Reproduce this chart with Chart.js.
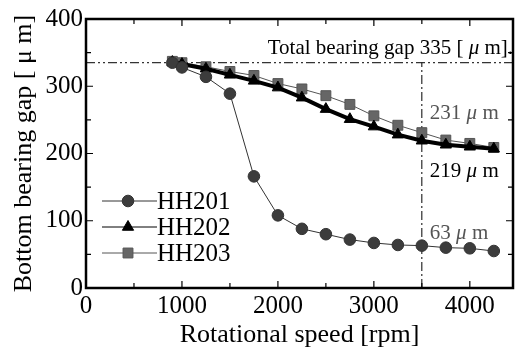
<!DOCTYPE html>
<html>
<head>
<meta charset="utf-8">
<script src="https://cdn.jsdelivr.net/npm/chart.js@4.4.1/dist/chart.umd.min.js"></script>
<style>
  html, body { margin: 0; padding: 0; background: #fff; }
  #wrap { width: 521px; height: 347px; }
</style>
</head>
<body>
<div id="wrap"><canvas id="myChart" width="521" height="347"></canvas></div>
<script>
  // rotational speed [rpm]
  var speed = [900, 1000, 1250, 1500, 1750, 2000, 2250, 2500, 2750, 3000, 3250, 3500, 3750, 4000, 4250]
  // bottom bearing gap [um]
  var HH201 = [335, 328, 314, 289, 166, 108, 88, 80, 72, 67, 64, 63, 60, 59, 55]
  var HH202 = [336, 333, 326, 317, 308, 298, 283, 266, 251, 240, 228, 219, 213, 210, 207]
  var HH203 = [337, 335, 329, 322, 316, 304, 296, 286, 273, 256, 242, 231, 220, 215, 209]
  var totalGap = 335
  var markSpeed = 3500
  var xTicks = [0, 1000, 2000, 3000, 4000]
  var yTicks = [0, 100, 200, 300, 400]

  var serif = "'Liberation Serif', 'Times New Roman', serif"

  function pts(ys) {
    return speed.map(function (s, i) { return { x: s, y: ys[i] } })
  }

  // inward ticks, box border, in-plot legend and annotations
  var decor = {
    id: 'decor',
    afterDatasetsDraw: function (chart) {
      var c = chart.ctx, a = chart.chartArea
      var xs = chart.scales.x, ys = chart.scales.y
      c.save()
      c.strokeStyle = '#000'
      c.lineWidth = 1.2
      for (var v = 500; v < 4450; v += 500) {
        var px = xs.getPixelForValue(v)
        var len = v % 1000 === 0 ? 7 : 5
        c.beginPath()
        c.moveTo(px, a.bottom); c.lineTo(px, a.bottom - len)
        c.moveTo(px, a.top); c.lineTo(px, a.top + len)
        c.stroke()
      }
      for (var w = 50; w < 400; w += 50) {
        var py = ys.getPixelForValue(w)
        var l2 = w % 100 === 0 ? 7 : 5
        c.beginPath()
        c.moveTo(a.left, py); c.lineTo(a.left + l2, py)
        c.moveTo(a.right, py); c.lineTo(a.right - l2, py)
        c.stroke()
      }
      c.lineWidth = 2.5
      c.strokeRect(a.left, a.top, a.right - a.left, a.bottom - a.top)

      // legend
      var ly = [201, 227, 253]
      chart.data.datasets.slice(0, 3).forEach(function (ds, i) {
        c.strokeStyle = ds.borderColor
        c.lineWidth = 1
        c.beginPath(); c.moveTo(102, ly[i]); c.lineTo(157, ly[i]); c.stroke()
        c.fillStyle = ds.backgroundColor
        c.strokeStyle = ds.borderColor
        Chart.helpers.drawPoint(c, {
          pointStyle: ds.pointStyle, radius: ds.pointRadius, borderWidth: 1
        }, 128, ly[i])
        c.fillStyle = '#000'
        c.font = '25px ' + serif
        c.textAlign = 'left'; c.textBaseline = 'middle'
        c.fillText(ds.label, 157, ly[i] + 1)
      })

      // annotations
      function mu(txt1, txt2, x, y, color, align) {
        var f = '21px ' + serif, fi = 'italic 21px ' + serif
        c.fillStyle = color
        c.textBaseline = 'alphabetic'
        c.font = f
        var w1 = c.measureText(txt1).width
        c.font = fi
        var wm = c.measureText('\u03bc').width
        c.font = f
        var w2 = c.measureText(txt2).width
        var sx = align === 'right' ? x - (w1 + wm + w2) : x
        c.textAlign = 'left'
        c.fillText(txt1, sx, y)
        c.font = fi
        c.fillText('\u03bc', sx + w1, y)
        c.font = f
        c.fillText(txt2, sx + w1 + wm, y)
      }
      var tx = xs.getPixelForValue(markSpeed) + 8
      mu('Total bearing gap ' + totalGap + ' [ ', ' m].', a.right, ys.getPixelForValue(totalGap) - 9, '#000', 'right')
      mu(HH203[11] + ' ', ' m', tx, ys.getPixelForValue(HH203[11]) - 14, '#555', 'left')
      mu(HH202[11] + ' ', ' m', tx, ys.getPixelForValue(HH202[11]) + 36, '#000', 'left')
      mu(HH201[11] + ' ', ' m', tx, ys.getPixelForValue(HH201[11]) - 7, '#555', 'left')
      c.restore()
    }
  }

  var ctx = document.getElementById('myChart')
  var myChart = new Chart(ctx, {
    type: 'line',
    data: {
      datasets: [
        {
          label: 'HH201', data: pts(HH201),
          borderColor: '#333', backgroundColor: '#3c3c3c',
          borderWidth: 1, pointStyle: 'circle', pointRadius: 5.8, pointBorderWidth: 1
        },
        {
          label: 'HH202', data: pts(HH202),
          borderColor: '#000', backgroundColor: '#000',
          borderWidth: 4, pointStyle: 'triangle', pointRadius: 6.5, pointBorderWidth: 1
        },
        {
          label: 'HH203', data: pts(HH203),
          borderColor: '#555', backgroundColor: '#666',
          borderWidth: 1, pointStyle: 'rect', pointRadius: 7, pointBorderWidth: 1
        },
        {
          label: 'total', data: [{ x: 0, y: totalGap }, { x: 4450, y: totalGap }],
          borderColor: '#000', borderWidth: 1, borderDash: [9, 3, 2, 3, 2, 3],
          pointRadius: 0
        },
        {
          label: 'mark', data: [{ x: markSpeed, y: 0 }, { x: markSpeed, y: totalGap }],
          borderColor: '#000', borderWidth: 1, borderDash: [9, 3, 2, 3],
          pointRadius: 0
        }
      ]
    },
    options: {
      responsive: false,
      animation: false,
      layout: { padding: { top: 19, right: 3, left: 0, bottom: 0 } },
      plugins: { legend: { display: false }, tooltip: { enabled: false } },
      scales: {
        x: {
          type: 'linear', min: 0, max: 4450,
          afterFit: function (s) { s.height = 59 },
          afterBuildTicks: function (s) { s.ticks = xTicks.map(function (v) { return { value: v } }) },
          grid: { display: false, drawTicks: false },
          border: { display: false },
          ticks: { color: '#000', font: { family: serif, size: 25 }, padding: 3, maxRotation: 0, autoSkip: false,
                   callback: function (v) { return String(v) } },
          title: { display: true, text: 'Rotational speed [rpm]', color: '#000', font: { family: serif, size: 26 }, padding: { top: 0, bottom: -4 } }
        },
        y: {
          type: 'linear', min: 0, max: 400,
          afterFit: function (s) { s.width = 86 },
          afterBuildTicks: function (s) { s.ticks = yTicks.map(function (v) { return { value: v } }) },
          grid: { display: false, drawTicks: false },
          border: { display: false },
          ticks: { color: '#000', font: { family: serif, size: 25 }, padding: 3,
                   callback: function (v) { return String(v) } },
          title: { display: true, text: 'Bottom bearing gap [ \u03bc m]', color: '#000', font: { family: serif, size: 26 }, padding: { top: 9, bottom: 0 } }
        }
      }
    },
    plugins: [decor]
  });
</script>
</body>
</html>
